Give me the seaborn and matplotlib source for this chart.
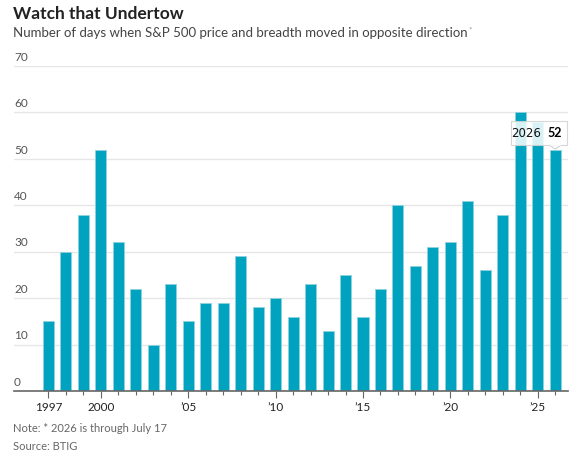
import matplotlib
matplotlib.use('Agg')
import matplotlib.pyplot as plt
from matplotlib.patches import FancyBboxPatch, Polygon
import seaborn as sns
import pandas as pd

# data
years = list(range(1997, 2027))
days = [15, 30, 38, 52, 32, 22, 10, 23, 15, 19,
        19, 29, 18, 20, 16, 23, 13, 25, 16, 22,
        40, 27, 31, 32, 41, 26, 38, 60, 58, 52]
label_years = [1997, 2000, 2005, 2010, 2015, 2020, 2025]
label_text = ['1997', '2000', '\u201905', '\u201910', '\u201915', '\u201920', '\u201925']
y_ticks = [0, 10, 20, 30, 40, 50, 60, 70]

bar_color = '#00a3bf'
text_dark = '#222222'
text_gray = '#555555'

sns.set_style('white')
plt.rcParams['font.family'] = ['Lato', 'DejaVu Sans']

df = pd.DataFrame({'year': [str(y) for y in years], 'days': days})

fig = plt.figure(figsize=(5.86, 4.59), dpi=100)
W, H = 586, 459
ax = fig.add_axes([14 / W, 1 - 391 / H, (568 - 14) / W, (391 - 66) / H])

sns.barplot(data=df, x='year', y='days', color=bar_color, width=0.63,
            saturation=1, edgecolor='#8fd3df', linewidth=0.6, ax=ax)

ax.set_ylim(0, 70)
ax.set_xlim(-1.97, 29.73)
ax.set_xlabel('')
ax.set_ylabel('')

# gridlines
for v in y_ticks[1:]:
    ax.axhline(v, color='#e6e6e6', lw=1, zorder=0)
ax.set_yticks([])
for v in y_ticks:
    ax.text(-1.97, v + 0.7, str(v), fontsize=8.5, color=text_gray,
            ha='left', va='bottom')

# x ticks
pos = {y: i for i, y in enumerate(years)}
ax.set_xticks([pos[y] for y in label_years])
ax.set_xticklabels(label_text, fontsize=8.5, color=text_dark)
ax.set_xticks(range(len(years)), minor=True)
ax.tick_params(axis='x', which='major', length=5, width=0.8, color='#666666',
               bottom=True, pad=3)
ax.tick_params(axis='x', which='minor', length=3, width=0.8, color='#666666',
               bottom=True)

for s in ['top', 'right', 'left']:
    ax.spines[s].set_visible(False)
ax.spines['bottom'].set_color('#666666')
ax.spines['bottom'].set_linewidth(1.2)

# tooltip on the last bar
last = len(years) - 1
box = FancyBboxPatch((26.45, days[last] + 0.9), 3.2, 5.2,
                     boxstyle='square,pad=0', facecolor='white', alpha=0.85,
                     edgecolor='#d0d0d0', linewidth=0.8, zorder=5, clip_on=False)
ax.add_patch(box)
tri = Polygon([[last - 0.3, days[last] + 0.9], [last + 0.3, days[last] + 0.9],
               [last, days[last] + 0.1]], closed=True, facecolor='white',
              edgecolor='#d0d0d0', linewidth=0.8, zorder=6, clip_on=False)
ax.add_patch(tri)
ax.plot([last - 0.27, last + 0.27], [days[last] + 0.9] * 2, color='white',
        lw=1.2, zorder=7, clip_on=False)
ax.text(27.35, days[last] + 3.5, str(years[last]), fontsize=8.5, color='#111111',
        ha='center', va='center', zorder=8, family='DejaVu Sans')
ax.text(28.95, days[last] + 3.5, str(days[last]), fontsize=9, color='#000000',
        fontweight='bold', ha='center', va='center', zorder=8)

# titles and notes
fig.text(13 / W, 1 - 14 / H, 'Watch that Undertow', fontsize=12.5,
         fontweight='bold', color=text_dark, ha='left', va='center')
sub = fig.text(13 / W, 1 - 33 / H,
               'Number of days when S&P 500 price and breadth moved in opposite direction',
               fontsize=9.5, color='#444444', ha='left', va='center')
fig.canvas.draw()
bb = sub.get_window_extent()
fig.text((bb.x1 + 1) / W, 1 - 30 / H, '*', fontsize=6, color='#999999',
         ha='left', va='center')
fig.text(13 / W, 1 - 428 / H, 'Note: * 2026 is through July 17', fontsize=8,
         color='#666666', ha='left', va='center')
fig.text(13 / W, 1 - 446 / H, 'Source: BTIG', fontsize=8,
         color='#666666', ha='left', va='center')

fig.savefig('out.png', dpi=100)
